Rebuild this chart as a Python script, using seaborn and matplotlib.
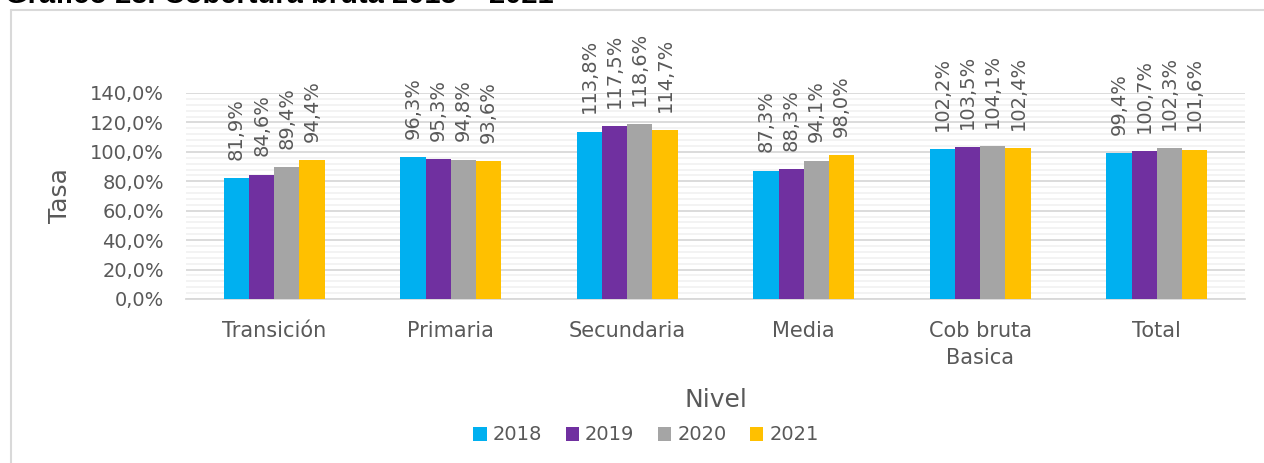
import matplotlib
matplotlib.use("Agg")
import matplotlib.pyplot as plt
import matplotlib.ticker as mticker
from matplotlib.lines import Line2D
import seaborn as sns
import pandas as pd

niveles = ["Transición", "Primaria", "Secundaria", "Media", "Cob bruta\nBasica", "Total"]
anios = ["2018", "2019", "2020", "2021"]
tasa_2018 = [81.9, 96.3, 113.8, 87.3, 102.2, 99.4]
tasa_2019 = [84.6, 95.3, 117.5, 88.3, 103.5, 100.7]
tasa_2020 = [89.4, 94.8, 118.6, 94.1, 104.1, 102.3]
tasa_2021 = [94.4, 93.6, 114.7, 98.0, 102.4, 101.6]
colores = ["#00B0F0", "#7030A0", "#A5A5A5", "#FFC000"]

W, H = 1264, 463
GRIS = "#595959"


def armar_df():
    filas = []
    for anio, serie in zip(anios, [tasa_2018, tasa_2019, tasa_2020, tasa_2021]):
        for nivel, v in zip(niveles, serie):
            filas.append({"Nivel": nivel, "Año": anio, "Tasa": v})
    return pd.DataFrame(filas)


def main():
    sns.set_style("white")
    plt.rcParams["font.family"] = ["DejaVu Sans"]
    df = armar_df()

    fig = plt.figure(figsize=(W / 100, H / 100), dpi=100)
    ax = fig.add_axes([186 / W, 1 - 299 / H, 1059 / W, 206 / H])

    sns.barplot(data=df, x="Nivel", y="Tasa", hue="Año", palette=colores,
                width=0.57, saturation=1, ax=ax, linewidth=0, zorder=3)

    ax.set_ylim(0, 140)
    ax.yaxis.set_major_locator(mticker.MultipleLocator(20))
    ax.yaxis.set_minor_locator(mticker.MultipleLocator(4))
    ax.yaxis.set_major_formatter(mticker.FuncFormatter(
        lambda v, p: f"{v:.1f}%".replace(".", ",")))
    ax.grid(axis="y", which="major", color="#D9D9D9", linewidth=1.3, zorder=0)
    ax.grid(axis="y", which="minor", color="#F0F0F0", linewidth=1.1, zorder=0)
    ax.set_axisbelow(True)

    for c in ax.containers:
        etiquetas = [f"{b.get_height():.1f}%".replace(".", ",") for b in c]
        ax.bar_label(c, labels=etiquetas, rotation=90, padding=13,
                     fontsize=14, color=GRIS)

    for s in ["top", "right", "left"]:
        ax.spines[s].set_visible(False)
    ax.spines["bottom"].set_color("#D9D9D9")
    ax.spines["bottom"].set_linewidth(1.3)
    ax.tick_params(axis="both", which="both", length=0, labelsize=14, colors=GRIS)
    ax.tick_params(axis="x", pad=16, labelsize=15)
    ax.tick_params(axis="y", pad=16)
    for t in ax.get_xticklabels():
        t.set_linespacing(1.45)

    ax.set_ylabel("Tasa", fontsize=18, color=GRIS)
    ax.set_xlabel("Nivel", fontsize=18, color=GRIS)
    ax.yaxis.set_label_coords(-0.108, 0.5)
    ax.xaxis.set_label_coords(0.5, -0.43)

    ax.legend(loc="center", bbox_to_anchor=(646 / W, 1 - 435 / H),
              bbox_transform=fig.transFigure, ncol=4, frameon=False,
              fontsize=14, labelcolor=GRIS, handlelength=0.7, handleheight=0.7,
              handletextpad=0.3, columnspacing=1.2)

    # marco del grafico
    fig.add_artist(Line2D([11 / W, 1], [1 - 10 / H, 1 - 10 / H],
                          transform=fig.transFigure, color="#D9D9D9", linewidth=1.5))
    fig.add_artist(Line2D([11 / W, 11 / W], [0, 1 - 10 / H],
                          transform=fig.transFigure, color="#D9D9D9", linewidth=1.5))

    # titulo recortado por arriba, como en la imagen original
    fig.text(5 / W, 1 - 3 / H, "Gráfico 28. Cobertura bruta 2018 – 2021",
             fontsize=21, fontweight="bold", family="Liberation Sans",
             va="baseline", ha="left", color="black")

    fig.savefig("out.png", dpi=100)


if __name__ == "__main__":
    main()
